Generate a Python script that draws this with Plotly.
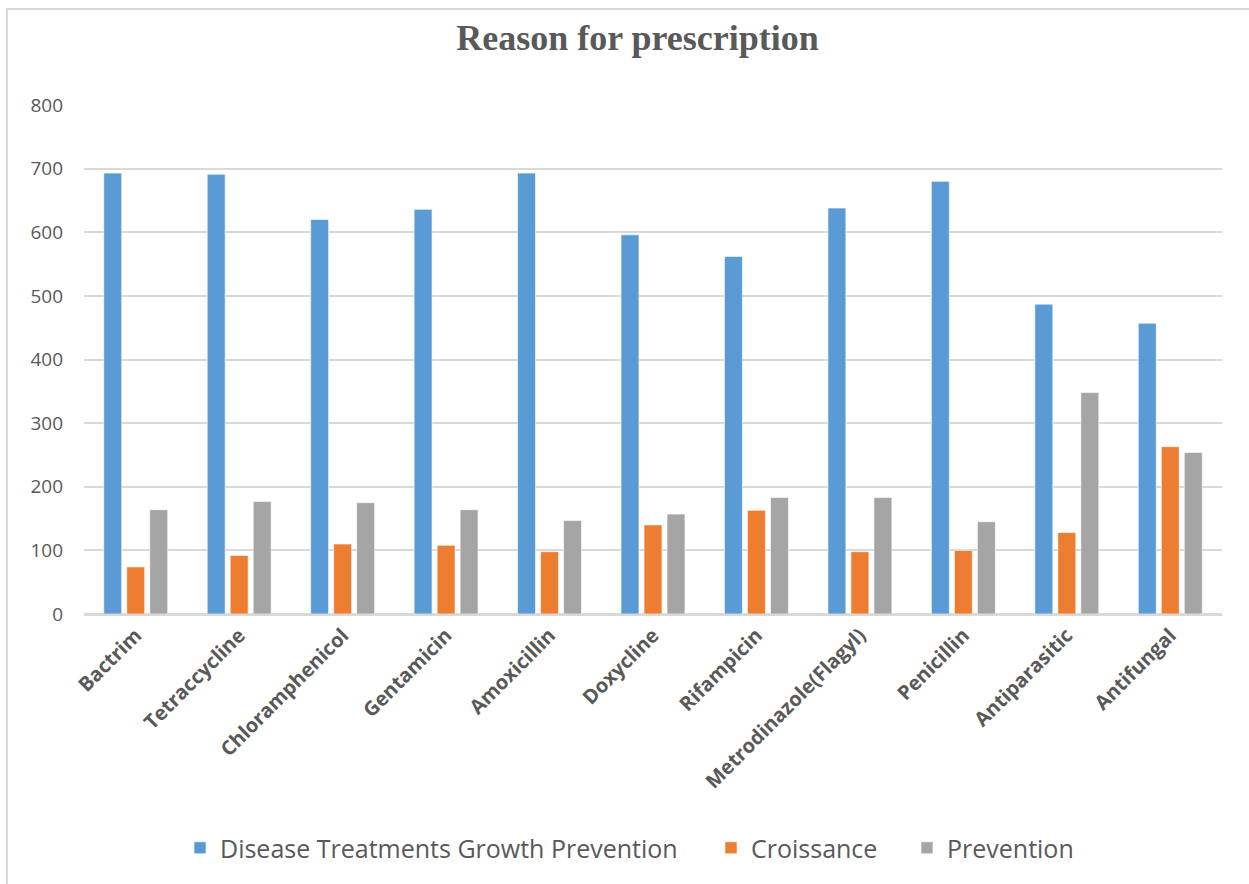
import plotly.graph_objects as go

# Antibiotic / drug categories on the x axis
drugs = [
    "Bactrim", "Tetraccycline", "Chloramphenicol", "Gentamicin", "Amoxicillin",
    "Doxycline", "Rifampicin", "Metrodinazole(Flagyl)", "Penicillin",
    "Antiparasitic", "Antifungal",
]

# Number of prescriptions per reason
disease_treatment = [693, 691, 620, 636, 693, 596, 562, 638, 680, 487, 457]
croissance = [74, 92, 110, 108, 98, 140, 163, 98, 100, 128, 263]
prevention = [164, 177, 175, 164, 147, 157, 183, 183, 145, 348, 254]

series_names = ["Disease Treatments Growth Prevention", "Croissance", "Prevention"]
series_values = [disease_treatment, croissance, prevention]
series_colors = ["#5B9BD5", "#ED7D31", "#A5A5A5"]

W, H = 1249, 884
ML, MR, MT, MB = 84, 27, 105, 270
TEXT = "#595959"
GRID = "#D9D9D9"

pw = W - ML - MR
ph = H - MT - MB
def px_x(p):
    return (p - ML) / pw
def px_y(p):
    return (H - MB - p) / ph

# Each series gets its own legend box so the entries can be spaced out
legend_ids = ["legend", "legend2", "legend3"]
legend_left_px = [180, 711, 907]

fig = go.Figure()
for name, vals, col, lg in zip(series_names, series_values, series_colors, legend_ids):
    fig.add_trace(go.Bar(
        x=drugs, y=vals, name=name, legend=lg,
        marker=dict(color=col, line=dict(color="rgba(255,255,255,0.6)", width=1)),
    ))

# Frame lines along the top and left edge of the chart area
fig.add_shape(type="line", xref="paper", yref="paper",
              x0=px_x(6), x1=px_x(W + 5), y0=px_y(9), y1=px_y(9),
              line=dict(color=GRID, width=2))
fig.add_shape(type="line", xref="paper", yref="paper",
              x0=px_x(7), x1=px_x(7), y0=px_y(8), y1=px_y(H + 5),
              line=dict(color=GRID, width=2))

legend_common = dict(
    orientation="h", xanchor="left", yanchor="middle", y=px_y(848),
    font=dict(size=25, color=TEXT), itemwidth=30, bgcolor="rgba(0,0,0,0)",
)

fig.update_layout(
    width=W, height=H,
    margin=dict(l=ML, r=MR, t=MT, b=MB),
    paper_bgcolor="white", plot_bgcolor="white",
    barmode="group", bargap=0.333, bargroupgap=0.22,
    title=dict(
        text="<b>Reason for prescription</b>",
        font=dict(family="Liberation Serif, Times New Roman, serif", size=36, color=TEXT),
        x=637.5 / W, xanchor="center", y=1 - 37 / H, yanchor="middle",
    ),
    font=dict(family="Open Sans, sans-serif", color=TEXT),
    yaxis=dict(
        range=[0, 800], dtick=100, tick0=0,
        showgrid=True, gridcolor=GRID, gridwidth=1.5,
        zeroline=True, zerolinecolor=GRID, zerolinewidth=1.5,
        showline=False, ticks="",
        tickfont=dict(size=19, color=TEXT),
        ticklabelstandoff=20,
    ),
    xaxis=dict(
        showgrid=False, showline=True, linecolor=GRID, linewidth=1.5,
        ticks="", tickangle=-45,
        tickfont=dict(size=20, color=TEXT, weight="bold"),
    ),
    legend=dict(x=px_x(legend_left_px[0]), **legend_common),
    legend2=dict(x=px_x(legend_left_px[1]), **legend_common),
    legend3=dict(x=px_x(legend_left_px[2]), **legend_common),
    showlegend=True,
)

fig.write_html("out.html")
